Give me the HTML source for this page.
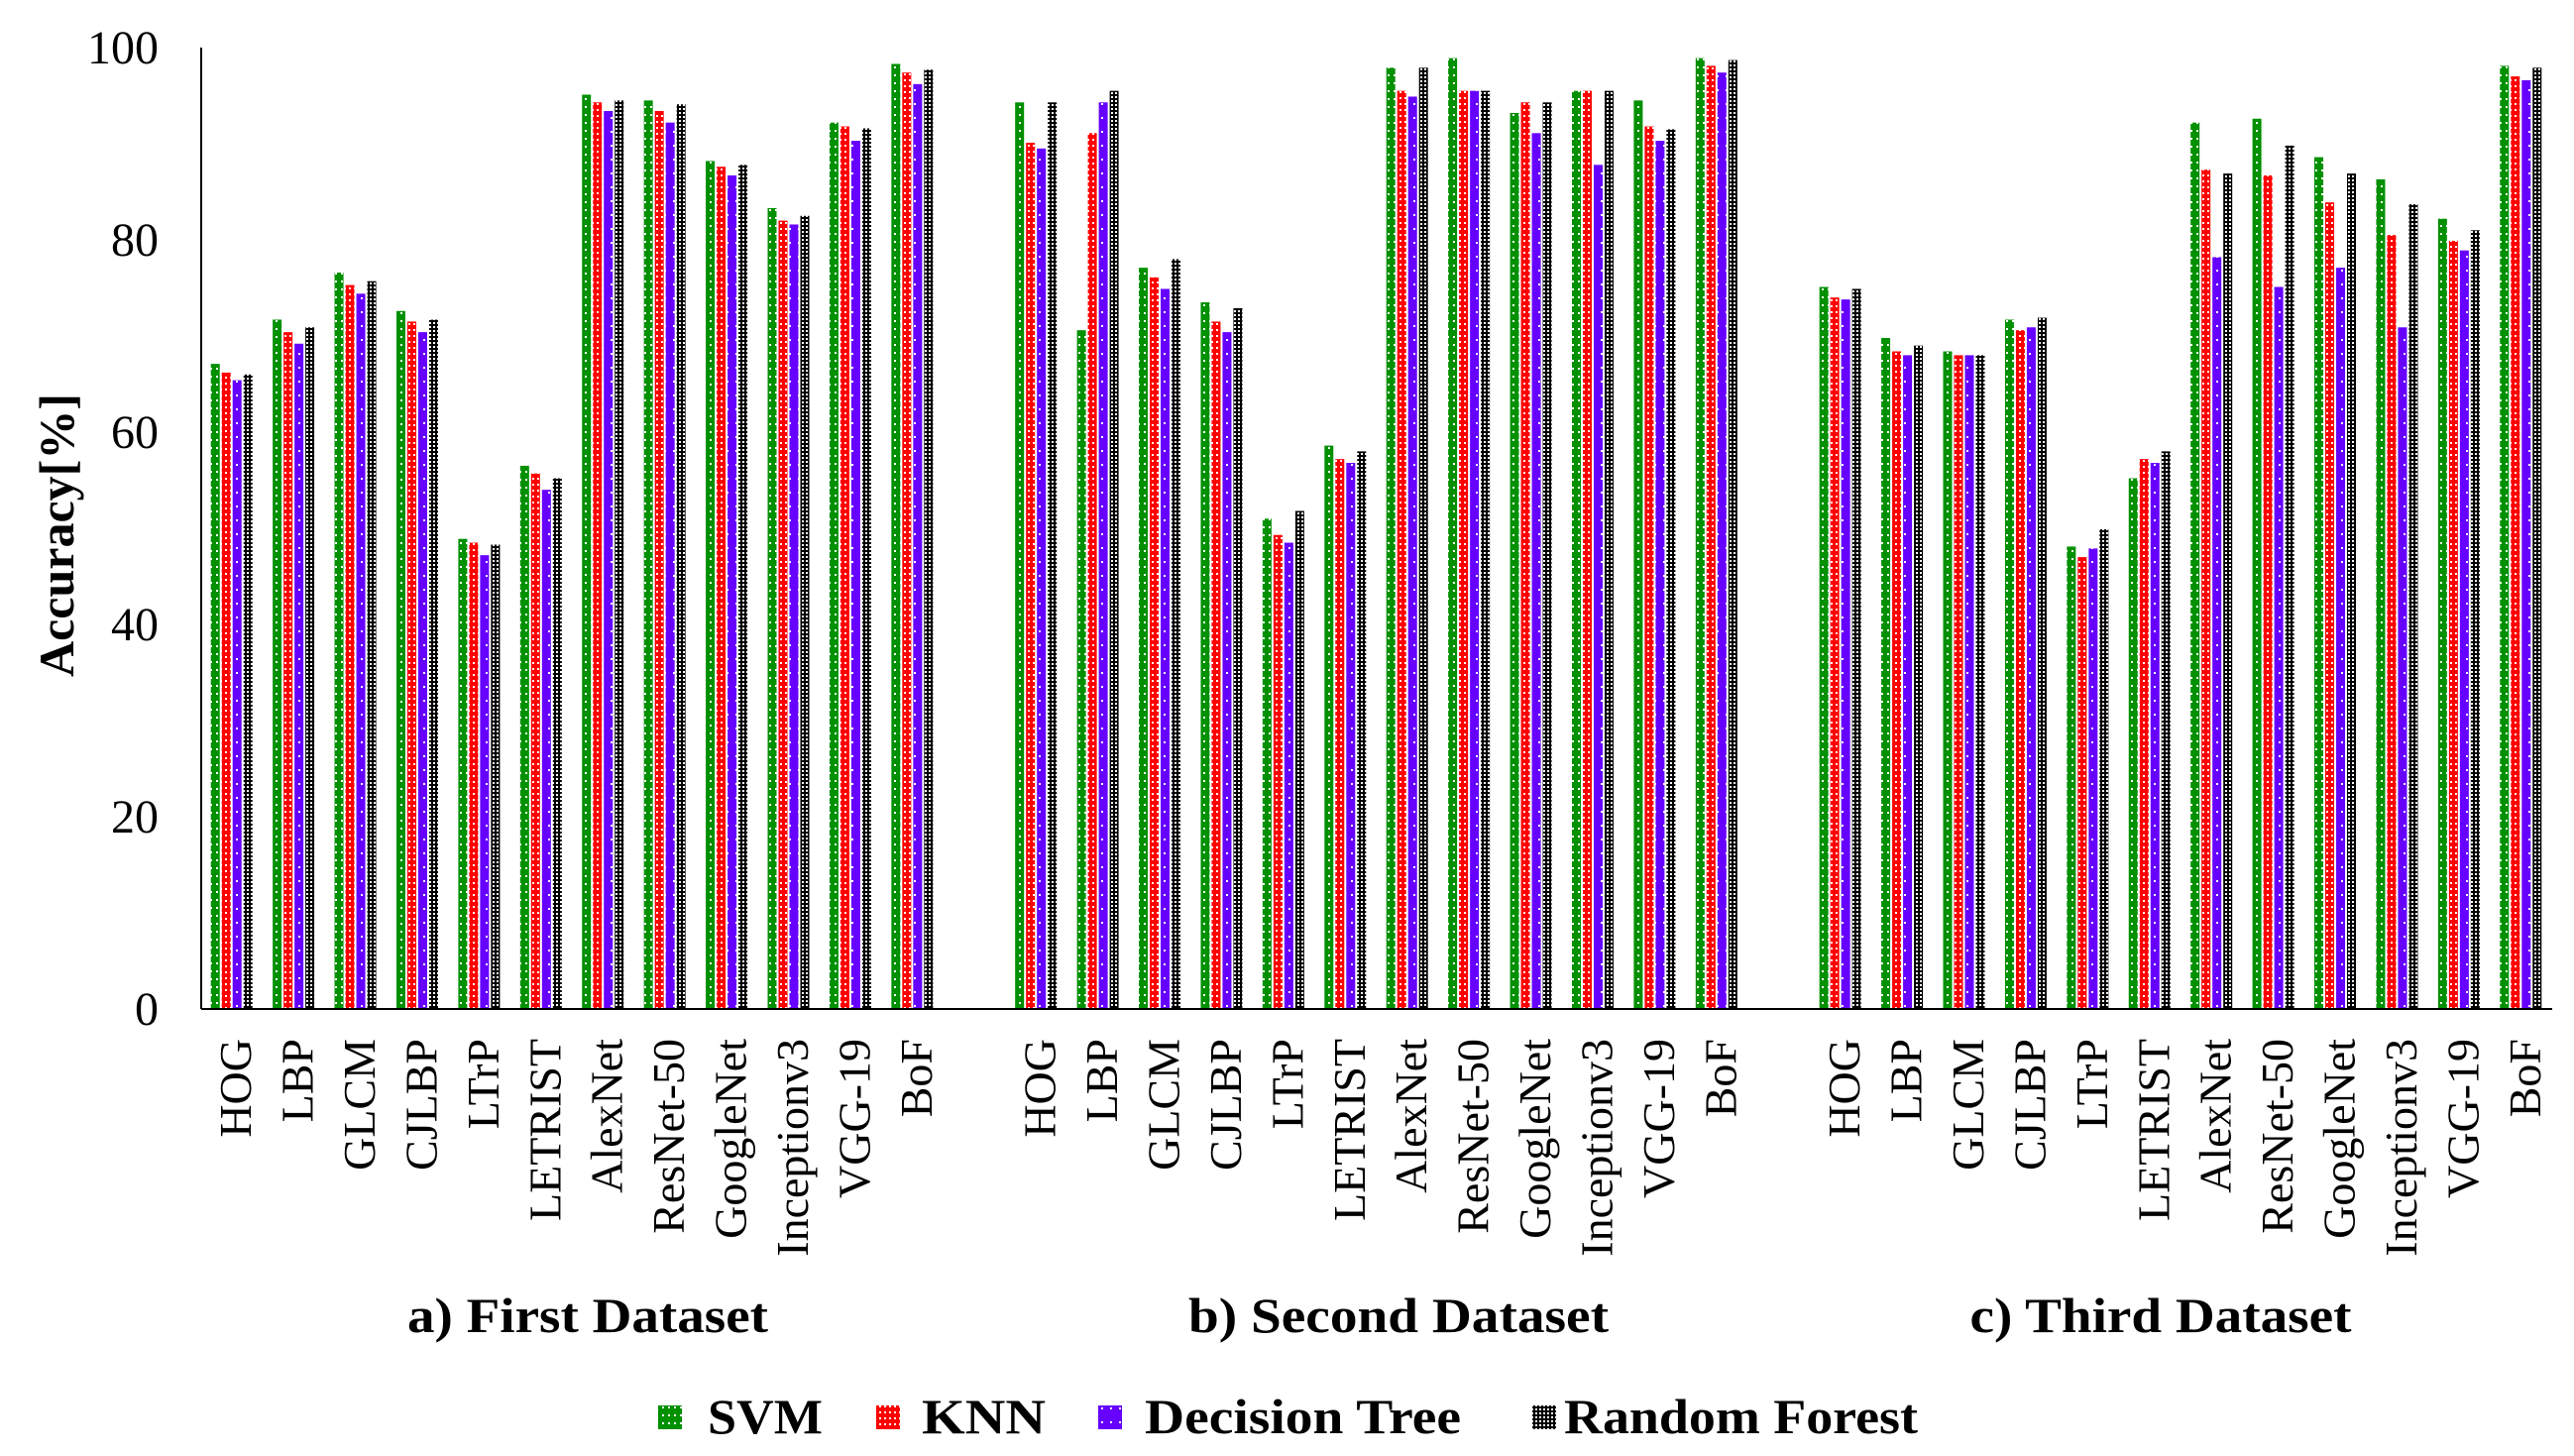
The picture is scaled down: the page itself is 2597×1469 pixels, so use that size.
<!DOCTYPE html>
<html><head><meta charset="utf-8"><style>
html,body{margin:0;padding:0;background:#fff;}
svg{display:block;font-family:"Liberation Serif",serif;}
</style></head><body>
<svg id="chart" width="2597" height="1469" viewBox="0 0 2597 1469" xmlns="http://www.w3.org/2000/svg">
<defs>
<pattern id="p-svm" width="6" height="8" patternUnits="userSpaceOnUse"><rect width="6" height="8" fill="#009000"/><rect x="2" y="3" width="2" height="2" fill="#fff"/></pattern>
<pattern id="p-knn" width="5" height="6" patternUnits="userSpaceOnUse"><rect width="5" height="6" fill="#ff0000"/><rect x="2" y="2" width="2" height="2" fill="#fff"/></pattern>
<pattern id="p-dt" width="9" height="14" patternUnits="userSpaceOnUse"><rect width="9" height="14" fill="#6600ff"/><rect x="4" y="6" width="2" height="2" fill="#fff"/></pattern>
<pattern id="p-rf" width="4" height="4" patternUnits="userSpaceOnUse"><rect width="4" height="4" fill="#000"/><rect x="1" y="1" width="2" height="2" fill="#fff"/></pattern>
</defs>
<g id="bars"></g>
<g id="axes"></g>
</svg>
<script>
const categories = ["HOG","LBP","GLCM","CJLBP","LTrP","LETRIST","AlexNet","ResNet-50","GoogleNet","Inceptionv3","VGG-19","BoF"];
const datasets = ["a) First Dataset","b) Second Dataset","c) Third Dataset"];
const seriesNames = ["SVM","KNN","Decision Tree","Random Forest"];
const yTicks = [0,20,40,60,80,100];
const svm1 = [67.1,71.7,76.6,72.6,48.9,56.5,95.1,94.5,88.2,83.3,92.2,98.3];
const knn1 = [66.2,70.4,75.3,71.5,48.5,55.7,94.3,93.4,87.6,82.0,91.8,97.4];
const dt1  = [65.4,69.2,74.4,70.4,47.2,54.0,93.4,92.2,86.7,81.6,90.3,96.2];
const rf1  = [66.0,70.9,75.7,71.7,48.3,55.2,94.5,94.1,87.8,82.5,91.6,97.7];
const svm2 = [94.3,70.6,77.1,73.5,51.0,58.6,97.9,98.9,93.2,95.5,94.5,98.9];
const knn2 = [90.1,91.1,76.1,71.5,49.3,57.2,95.5,95.5,94.3,95.5,91.8,98.1];
const dt2  = [89.5,94.3,74.9,70.4,48.5,56.8,94.9,95.5,91.1,87.8,90.3,97.4];
const rf2  = [94.3,95.5,78.0,72.9,51.8,58.0,97.9,95.5,94.3,95.5,91.5,98.7];
const svm3 = [75.1,69.8,68.4,71.7,48.1,55.2,92.2,92.6,88.6,86.3,82.2,98.1];
const knn3 = [74.0,68.4,68.0,70.6,47.0,57.2,87.3,86.7,83.9,80.5,79.9,97.0];
const dt3  = [73.8,68.0,68.0,70.9,47.9,56.8,78.2,75.1,77.1,70.9,78.9,96.6];
const rf3  = [74.9,69.0,68.0,71.9,49.9,58.0,86.9,89.8,86.9,83.7,81.0,97.9];

const NS="http://www.w3.org/2000/svg";
const X0=203, X1=2575, Y0=1018, Y100=48;
const slotW=(X1-X0)/38;
const yScale=v=>Y0-(v/100)*(Y0-Y100);
const slotCenter=(d,c)=>X0+(d*13+c+0.5)*slotW+4;
const fills=["url(#p-svm)","url(#p-knn)","url(#p-dt)","url(#p-rf)"];
const data=[[svm1,knn1,dt1,rf1],[svm2,knn2,dt2,rf2],[svm3,knn3,dt3,rf3]];
const barW=9, step=11;
const bars=document.getElementById('bars');
const axes=document.getElementById('axes');
function mk(tag,attrs,parent){const e=document.createElementNS(NS,tag);for(const k in attrs)e.setAttribute(k,attrs[k]);parent.appendChild(e);return e;}

const titleX=[593,1411,2180];
const titleW=[364,424,385];
data.forEach((ser,d)=>{
  categories.forEach((cat,c)=>{
    const cx=slotCenter(d,c);
    ser.forEach((vals,s)=>{
      const x=cx-2*step+s*step-barW/2+1;
      const y=yScale(vals[c]);
      const r=mk('rect',{x:x,y:y,width:barW,height:Y0-y,fill:fills[s]},bars);
      
      
    });
    const t=mk('text',{x:0,y:0,transform:`translate(${cx+15},1048) rotate(-90)`,'text-anchor':'end','font-size':46},axes);
    t.textContent=cat;
    
    
  });
  const tt=mk('text',{x:titleX[d]-titleW[d]/2,y:1344,'font-size':50,'font-weight':'bold',textLength:titleW[d],lengthAdjust:'spacingAndGlyphs'},axes);
  tt.textContent=datasets[d];
  
  
});

const yl=mk('line',{x1:X0,y1:Y100,x2:X0,y2:Y0,stroke:'#000','stroke-width':2},axes);


const xl=mk('line',{x1:X0,y1:Y0,x2:X1,y2:Y0,stroke:'#000','stroke-width':2},axes);


yTicks.forEach(v=>{
  const t=mk('text',{x:160,y:yScale(v)+16,'text-anchor':'end','font-size':48},axes);
  t.textContent=v;
  
  
});
const yt=mk('text',{x:0,y:0,transform:'translate(74,540) rotate(-90)','text-anchor':'middle','font-size':50,'font-weight':'bold'},axes);
yt.textContent='Accuracy[%]';



const legMarkX=[664,884,1108,1546];
const legTextX=[714,930,1155,1578];
const legTextW=[116,125,319,357];
seriesNames.forEach((n,i)=>{
  const g=mk('g',{},axes);
  
  
  mk('rect',{x:legMarkX[i],y:1418,width:24,height:24,fill:fills[i]},g);
  const t=mk('text',{x:legTextX[i],y:1446,'font-size':50,'font-weight':'bold',textLength:legTextW[i],lengthAdjust:'spacingAndGlyphs'},g);
  t.textContent=n;
});
</script>
</body></html>
